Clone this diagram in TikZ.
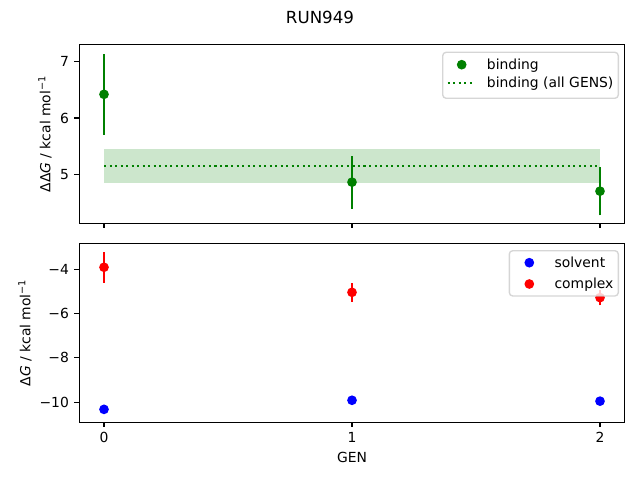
\documentclass[tikz,border=0pt]{standalone}
\usepackage{fontspec}
\setmainfont{DejaVu Sans}
\definecolor{mplgreen}{HTML}{008000}
\definecolor{mplblue}{HTML}{0000FF}
\definecolor{mplred}{HTML}{FF0000}
\definecolor{legendedge}{HTML}{CCCCCC}
\tikzset{
  x=0.72pt, y=0.72pt,
}
\tikzstyle{axes}=[line width=0.8pt]
\tikzstyle{errbar}=[line width=1.5pt]
\tikzstyle{legendbox}=[draw=legendedge,fill=white,opacity=0.8,line width=1pt,rounded corners=2.5pt]
\tikzstyle{every node}=[font=\fontsize{10}{12}\selectfont,inner sep=0pt]

\begin{document}
\begin{tikzpicture}
  \useasboundingbox (0,0) rectangle (640,480);
  \node (title) at (320,463) {\fontsize{12}{14}\selectfont RUN949};
  % upper panel, binding
  \begin{scope}[shift={(74.88pt,17.42pt)},x=178.56pt,y=40.54pt]
    \fill[mplgreen,opacity=0.2] (0,4.84) rectangle (2,5.45);
    \draw[mplgreen,line width=1.5pt,dash pattern=on 1.5pt off 2.475pt] (0,5.15)--(2,5.15);
    \foreach \x/\y/\e in {0/6.42/0.72, 1/4.86/0.47, 2/4.70/0.43} {
      \draw[errbar,mplgreen] (\x,\y-\e)--(\x,\y+\e);
      \fill[mplgreen] (\x,\y) circle (3.5pt);
    }
    \draw[axes] (-0.1,4.13) rectangle (2.1,7.30);
    \foreach \x in {0,1,2} \draw[axes] (\x,4.13)--++(0pt,-3.5pt);
    \foreach \y in {5,6,7} \draw[axes] (-0.1,\y)--++(-3.5pt,0pt) node (ytop\y) [left=3.5pt]{\y};
  \end{scope}
  \node[rotate=90] (ylabtop) at (45,346) {ΔΔ\textit{G} / kcal mol\textsuperscript{−1}};
  \draw[legendbox] (442.7,381.7) rectangle (618.3,427.7);
  \fill[mplgreen] (461.7,415.3) circle (3.5pt);
  \draw[mplgreen,line width=1.5pt,dash pattern=on 1.5pt off 2.475pt] (447.7,396.7)--(475,396.7);
  \node[anchor=base west] (legbind) at (486.7,410.7) {binding};
  \node[anchor=base west] (legall) at (486.7,392.1) {binding (all GENS)};
  % lower panel, solvent and complex
  \begin{scope}[shift={(74.88pt,215.57pt)},x=178.56pt,y=15.96pt]
    \foreach \x/\y in {0/-10.32, 1/-9.91, 2/-9.95}
      \fill[mplblue] (\x,\y) circle (3.5pt);
    \foreach \x/\y/\e in {0/-3.91/0.70, 1/-5.04/0.43, 2/-5.28/0.35} {
      \draw[errbar,mplred] (\x,\y-\e)--(\x,\y+\e);
      \fill[mplred] (\x,\y) circle (3.5pt);
    }
    \draw[axes] (-0.1,-10.9) rectangle (2.1,-2.83);
    \foreach \x in {0,1,2} \draw[axes] (\x,-10.9)--++(0pt,-3.5pt) node (xbot\x) [below=3.5pt]{\x};
    \foreach \y in {-10,-8,-6,-4} \draw[axes] (-0.1,\y)--++(-3.5pt,0pt) node (ybot\y) [left=3.5pt]{−\the\numexpr-\y\relax};
  \end{scope}
  \node[rotate=90] (ylabbot) at (25,147.3) {Δ\textit{G} / kcal mol\textsuperscript{−1}};
  \node (xlab) at (352,22.3) {GEN};
  \draw[legendbox] (509.3,184) rectangle (618.3,229.3);
  \fill[mplblue] (529.3,217.3) circle (3.5pt);
  \fill[mplred] (529.3,196) circle (3.5pt);
  \node[anchor=base west] (legsolv) at (554.3,212.7) {solvent};
  \node[anchor=base west] (legcomp) at (554.3,191.4) {complex};
\end{tikzpicture}
\end{document}
